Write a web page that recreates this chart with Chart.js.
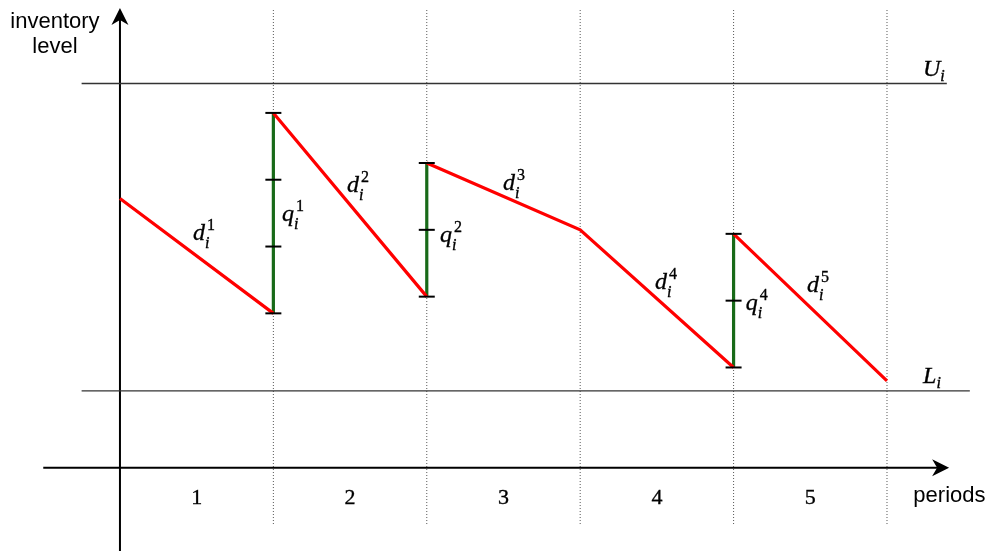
<!DOCTYPE html>
<html>
<head>
<meta charset="utf-8">
<script src="https://cdn.jsdelivr.net/npm/chart.js@4/dist/chart.umd.min.js"></script>
<style>
  html, body { margin: 0; padding: 0; background: #fff; }
  #wrap { width: 989px; height: 551px; position: relative; }
</style>
</head>
<body>
<div id="wrap"><canvas id="chart"></canvas></div>
<script>
// inventory levels (1 unit = one tick on the order bars)
const periods = [1, 2, 3, 4, 5];
const periodLabels = ["1", "2", "3", "4", "5"];
const startLevel = [4.03, 5.31, 4.56, 3.56, 3.50]; // level at start of period (after order arrives)
const endLevel = [2.31, 2.56, 3.56, 1.50, 1.30];   // level at end of period
const orderQty = [3, 2, 0, 2];                      // q_i^t placed at end of period t
const upperBound = 5.75; // U_i
const lowerBound = 1.15; // L_i

// red demand path, broken where an order lifts the level
const demandPath = [];
periods.forEach((p, k) => {
  const jump = k === 0 || startLevel[k] !== endLevel[k - 1];
  if (k > 0 && jump) demandPath.push({ x: p - 1, y: null });
  if (jump) demandPath.push({ x: p - 1, y: startLevel[k] });
  demandPath.push({ x: p, y: endLevel[k] });
});

// green order bars with a tick per unit ordered
const orderBars = [];
const orderTicks = [];
orderQty.forEach((q, k) => {
  if (!q) return;
  const x = periods[k];
  orderBars.push({ x, y: endLevel[k] }, { x, y: startLevel[k + 1] }, { x, y: null });
  for (let j = 0; j <= q; j++) {
    orderTicks.push({ x, y: endLevel[k] + (startLevel[k + 1] - endLevel[k]) * j / q });
  }
});

// dotted period boundaries
const guides = [];
periods.forEach((p) => {
  guides.push({ x: p, y: 6.85 }, { x: p, y: -0.87 }, { x: p, y: null });
});

const mathLabels = [
  { base: "d", sup: "1", sub: "i", x: 0.476, y: 3.41 },
  { base: "q", sup: "1", sub: "i", x: 1.056, y: 3.69 },
  { base: "d", sup: "2", sub: "i", x: 1.48, y: 4.13 },
  { base: "q", sup: "2", sub: "i", x: 2.086, y: 3.38 },
  { base: "d", sup: "3", sub: "i", x: 2.497, y: 4.15 },
  { base: "d", sup: "4", sub: "i", x: 3.488, y: 2.68 },
  { base: "q", sup: "4", sub: "i", x: 4.08, y: 2.36 },
  { base: "d", sup: "5", sub: "i", x: 4.478, y: 2.63 },
  { base: "U", sup: "", sub: "i", x: 5.235, y: 5.855 },
  { base: "L", sup: "", sub: "i", x: 5.235, y: 1.27 },
];

const MATH_FONT = '"Liberation Serif", "DejaVu Serif", serif';
const SANS_FONT = '"Liberation Sans", Arial, sans-serif';

function drawArrow(ctx, tx, ty, dx, dy) {
  const len = 17, half = 8.5, notch = 5;
  const nx = -dy, ny = dx;
  ctx.beginPath();
  ctx.moveTo(tx, ty);
  ctx.lineTo(tx - dx * len + nx * half, ty - dy * len + ny * half);
  ctx.lineTo(tx - dx * (len - notch), ty - dy * (len - notch));
  ctx.lineTo(tx - dx * len - nx * half, ty - dy * len - ny * half);
  ctx.closePath();
  ctx.fillStyle = "#000";
  ctx.fill();
}

// text with a hairline stroke so it reads as heavy as the TeX original
function heavyText(ctx, str, x, y) {
  ctx.fillText(str, x, y);
  ctx.strokeText(str, x, y);
}

const sketchPlugin = {
  id: "sketch",
  afterDatasetsDraw(chart) {
    const { ctx } = chart;
    const sx = chart.scales.x, sy = chart.scales.y;
    ctx.save();

    // arrow heads on both axes
    drawArrow(ctx, sx.getPixelForValue(5.405), sy.getPixelForValue(0), 1, 0);
    drawArrow(ctx, sx.getPixelForValue(0), sy.getPixelForValue(6.88), 0, -1);

    // axis titles
    ctx.fillStyle = "#000";
    ctx.strokeStyle = "#000";
    ctx.lineWidth = 0.35;
    ctx.textAlign = "center";
    ctx.textBaseline = "alphabetic";
    ctx.font = "22px " + SANS_FONT;
    ctx.fillText("inventory", sx.getPixelForValue(-0.424), sy.getPixelForValue(6.58));
    ctx.fillText("level", sx.getPixelForValue(-0.424), sy.getPixelForValue(6.2));
    ctx.fillText("periods", sx.getPixelForValue(5.407), sy.getPixelForValue(-0.509));

    // period numbers
    ctx.font = "22px " + MATH_FONT;
    periods.forEach((p, k) => {
      heavyText(ctx, periodLabels[k], sx.getPixelForValue(p - 0.5), sy.getPixelForValue(-0.543));
    });

    // d, q, U, L symbols
    ctx.textAlign = "left";
    mathLabels.forEach((m) => {
      const px = sx.getPixelForValue(m.x), py = sy.getPixelForValue(m.y);
      ctx.font = "italic 24px " + MATH_FONT;
      heavyText(ctx, m.base, px, py);
      const w = ctx.measureText(m.base).width;
      if (m.sup) {
        ctx.font = "16px " + MATH_FONT;
        heavyText(ctx, m.sup, px + w + 2, py - 10);
      }
      ctx.font = "italic 16px " + MATH_FONT;
      heavyText(ctx, m.sub, px + w, py + (m.sup ? 8 : 5));
    });
    ctx.restore();
  },
};

new Chart(document.getElementById("chart"), {
  type: "scatter",
  data: {
    datasets: [
      {
        label: "order ticks",
        data: orderTicks,
        showLine: false,
        pointStyle: "line",
        pointRadius: 8,
        pointBorderWidth: 2,
        pointBorderColor: "#000",
        order: 0,
      },
      {
        label: "inventory",
        data: demandPath,
        showLine: true,
        spanGaps: false,
        borderColor: "#ff0000",
        borderWidth: 3.2,
        pointRadius: 0,
        order: 1,
      },
      {
        label: "orders",
        data: orderBars,
        showLine: true,
        spanGaps: false,
        borderColor: "#186a18",
        borderWidth: 3.2,
        pointRadius: 0,
        order: 2,
      },
      {
        label: "U",
        data: [{ x: -0.25, y: upperBound }, { x: 5.39, y: upperBound }],
        showLine: true,
        borderColor: "#333",
        borderWidth: 1.3,
        pointRadius: 0,
        order: 3,
      },
      {
        label: "L",
        data: [{ x: -0.25, y: lowerBound }, { x: 5.54, y: lowerBound }],
        showLine: true,
        borderColor: "#333",
        borderWidth: 1.3,
        pointRadius: 0,
        order: 3,
      },
      {
        label: "x axis",
        data: [{ x: -0.5, y: 0 }, { x: 5.36, y: 0 }],
        showLine: true,
        borderColor: "#000",
        borderWidth: 2,
        pointRadius: 0,
        order: 4,
      },
      {
        label: "y axis",
        data: [{ x: 0, y: -1.3 }, { x: 0, y: 6.84 }],
        showLine: true,
        borderColor: "#000",
        borderWidth: 2,
        pointRadius: 0,
        order: 4,
      },
      {
        label: "period boundaries",
        data: guides,
        showLine: true,
        spanGaps: false,
        borderColor: "#555",
        borderWidth: 1,
        borderDash: [1, 2],
        pointRadius: 0,
        order: 5,
      },
    ],
  },
  options: {
    responsive: true,
    maintainAspectRatio: false,
    animation: false,
    events: [],
    layout: { padding: 0, autoPadding: false },
    plugins: { legend: { display: false }, tooltip: { enabled: false } },
    scales: {
      x: { type: "linear", min: -0.782, max: 5.665, display: false },
      y: { type: "linear", min: -1.247, max: 7.0, display: false },
    },
  },
  plugins: [sketchPlugin],
});
</script>
</body>
</html>
